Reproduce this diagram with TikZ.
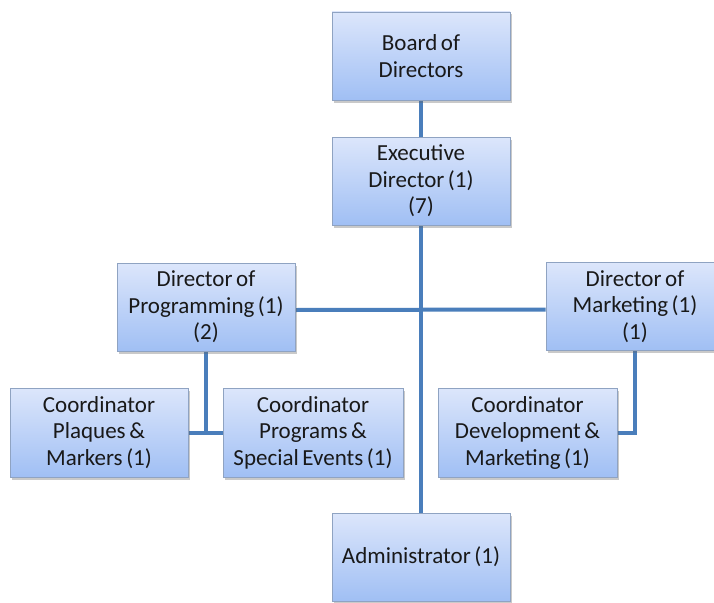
\documentclass[tikz,border=0pt]{standalone}
\usepackage{fontspec}
\setmainfont{Carlito}
\usetikzlibrary{shadows,backgrounds}
\definecolor{linkblue}{HTML}{4A7EBB}
\definecolor{boxtop}{HTML}{DCE6FB}
\definecolor{boxbottom}{HTML}{A0BFF4}
\definecolor{boxedge}{HTML}{8FA3C2}
% box text: Calibri-sized type with slightly tight word spacing
\newcommand{\orgtextfont}{\fontsize{23}{26.5}\selectfont\spaceskip=3.6pt plus 1pt minus 1pt\relax}
\tikzset{
  orgbox/.style={draw=boxedge, line width=0.8pt, top color=boxtop, bottom color=boxbottom,
    minimum width=178pt, minimum height=88pt, align=center, inner sep=2pt,
    font=\orgtextfont, text=black!90,
    drop shadow={shadow xshift=2pt, shadow yshift=-2.5pt, opacity=0.35, fill=black!60}},
  link/.style={draw=linkblue, line width=4pt}
}
\begin{document}
\begin{tikzpicture}[x=1pt,y=-1pt]
\useasboundingbox (0,0) rectangle (714,602);
\clip (0,0) rectangle (714,602);

\node[orgbox] (board) at (421,56) {Board of\\Directors};
\node[orgbox] (exec) at (421,181) {Executive\\Director (1)\\(7)};
\node[orgbox] (prog) at (206,307) {Director of\\Programming (1)\\(2)};
\node[orgbox] (mkt) at (635,306.5) {Director of\\Marketing (1)\\(1)};
\node[orgbox, minimum height=89pt] (plaques) at (99,432.5) {Coordinator\\Plaques \&\\Markers (1)};
\node[orgbox, minimum width=180pt, minimum height=89pt] (programs) at (313,432.5) {Coordinator\\Programs \&\\Special Events (1)};
\node[orgbox, minimum width=179pt, minimum height=89pt] (dev) at (527.5,432.5) {Coordinator\\Development \&\\Marketing (1)};
\node[orgbox] (admin) at (421,557) {Administrator (1)};

\begin{scope}[on background layer]
  \clip (0,0) rectangle (714,602);
  \fill[white] (0,0) rectangle (714,602);
  \draw[link] (board) -- (exec);
  \draw[link] (exec) -- (admin);
  \draw[link] ([yshift=-3pt]prog.east) -- ([yshift=-3pt]mkt.west);
  \draw[link] (prog.south) -- (prog.south |- plaques.east);
  \draw[link] (plaques.east) -- (programs.west);
  \draw[link] (mkt.south) |- (dev.east);
\end{scope}
\end{tikzpicture}
\end{document}
